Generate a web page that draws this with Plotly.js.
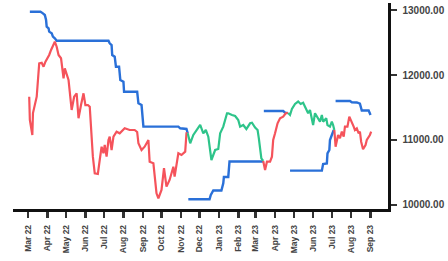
<!DOCTYPE html>
<html>
<head>
<meta charset="utf-8">
<script src="https://cdn.plot.ly/plotly-3.0.1.min.js"></script>
<style>html,body{margin:0;padding:0;background:#fff;}#chart{width:448px;height:261px;}</style>
</head>
<body>
<div id="chart"></div>
<script>
// Price segments (red = down regime, green = up regime)
const red1Dates = ['2022-03-03','2022-03-04','2022-03-08','2022-03-09','2022-03-15','2022-03-19','2022-03-23','2022-03-26','2022-03-29','2022-04-04','2022-04-07','2022-04-11','2022-04-13','2022-04-16','2022-04-19','2022-04-23','2022-04-27','2022-04-29','2022-05-02','2022-05-05','2022-05-10','2022-05-14','2022-05-18','2022-05-21','2022-05-25','2022-05-29','2022-06-01','2022-06-05','2022-06-08','2022-06-11','2022-06-13','2022-06-16','2022-06-21','2022-06-24','2022-06-27','2022-06-30','2022-07-02','2022-07-05','2022-07-08','2022-07-10','2022-07-13','2022-07-16','2022-07-21','2022-07-26','2022-08-03','2022-08-11','2022-08-19','2022-08-23','2022-08-25','2022-08-30','2022-09-04','2022-09-10','2022-09-12','2022-09-18','2022-09-20','2022-09-23','2022-09-26','2022-10-01','2022-10-05','2022-10-09','2022-10-14','2022-10-20','2022-10-22','2022-10-28','2022-11-02','2022-11-08','2022-11-10','2022-11-12'];
const red1Vals = [11666,11308,11077,11415,11666,12180,12189,12128,12205,12308,12385,12488,12512,12435,12308,12257,11949,12103,12026,11923,11462,11666,11718,11334,11538,11718,11538,11538,11512,11051,10743,10488,10477,10692,10897,10795,10923,10743,11000,11051,10846,11051,11128,11103,11180,11154,11154,11123,10949,10846,10897,11000,10666,10641,10436,10180,10103,10231,10565,10282,10385,10589,10436,10795,10769,10820,11103,11103];

const green1Dates = ['2022-11-12','2022-11-16','2022-11-21','2022-11-27','2022-12-02','2022-12-07','2022-12-11','2022-12-15','2022-12-18','2022-12-20','2022-12-26','2022-12-31','2023-01-03','2023-01-08','2023-01-14','2023-01-16','2023-01-22','2023-01-27','2023-02-01','2023-02-04','2023-02-09','2023-02-14','2023-02-20','2023-02-23','2023-02-28','2023-03-04','2023-03-06','2023-03-10','2023-03-13'];
const green1Vals = [11103,10949,11077,11154,11231,11103,11154,11051,10795,10692,10846,10862,11103,11205,11411,11411,11385,11369,11308,11205,11231,11169,11257,11266,11192,11154,11026,10718,10677];

const red2Dates = ['2023-03-13','2023-03-16','2023-03-19','2023-03-24','2023-03-27','2023-03-29','2023-04-01','2023-04-05','2023-04-09','2023-04-14','2023-04-18','2023-04-22'];
const red2Vals = [10677,10538,10666,10666,10743,11000,11103,11257,11334,11359,11411,11415];

const green2Dates = ['2023-04-22','2023-04-25','2023-04-28','2023-05-03','2023-05-08','2023-05-12','2023-05-16','2023-05-19','2023-05-24','2023-05-27','2023-05-30','2023-06-01','2023-06-04','2023-06-07','2023-06-12','2023-06-15','2023-06-17','2023-06-22','2023-06-24','2023-06-28','2023-07-01','2023-07-03','2023-07-05'];
const green2Vals = [11415,11385,11477,11554,11592,11554,11574,11512,11411,11462,11334,11231,11411,11369,11282,11385,11282,11334,11231,11205,11282,11231,11154];

const red3Dates = ['2023-07-05','2023-07-07','2023-07-11','2023-07-14','2023-07-17','2023-07-20','2023-07-22','2023-07-26','2023-07-29','2023-08-02','2023-08-05','2023-08-07','2023-08-10','2023-08-13','2023-08-15','2023-08-17','2023-08-20','2023-08-24','2023-08-26','2023-08-31','2023-09-02'];
const red3Vals = [11154,10897,11077,11026,11128,11051,11205,11205,11359,11282,11205,11154,11180,11103,11128,10974,10857,10923,11000,11077,11128];

// Trailing stop segments (blue)
const stop1Dates = ['2022-03-04','2022-03-21','2022-03-25','2022-03-28','2022-03-30','2022-03-31','2022-04-03','2022-04-04','2022-04-08','2022-04-10','2022-04-13','2022-04-16','2022-07-08','2022-07-10','2022-07-13','2022-07-14','2022-07-18','2022-07-20','2022-07-25','2022-07-27','2022-08-01','2022-08-02','2022-08-23','2022-08-25','2022-08-30','2022-09-02','2022-10-28','2022-10-31','2022-11-10','2022-11-12'];
const stop1Vals = [12974,12974,12949,12923,12846,12744,12718,12667,12641,12590,12564,12528,12528,12487,12462,12308,12282,12128,12128,11923,11897,11743,11743,11564,11538,11205,11205,11180,11170,11103];

const stop2Dates = ['2022-11-13','2022-12-17','2022-12-19','2022-12-23','2023-01-05','2023-01-08','2023-01-09','2023-01-16','2023-01-18','2023-03-13'];
const stop2Vals = [10088,10088,10154,10223,10223,10334,10431,10431,10669,10669];

const stop3Dates = ['2023-03-14','2023-04-14','2023-04-17','2023-04-21'];
const stop3Vals = [11446,11446,11420,11415];

const stop4Dates = ['2023-04-25','2023-06-15','2023-06-17','2023-06-23','2023-06-24','2023-06-27','2023-06-28','2023-07-01','2023-07-03','2023-07-04'];
const stop4Vals = [10528,10528,10630,10640,10795,10846,11000,11092,11128,11154];

const stop5Dates = ['2023-07-07','2023-07-30','2023-08-02','2023-08-10','2023-08-15','2023-08-18','2023-08-29','2023-09-01'];
const stop5Vals = [11600,11600,11580,11577,11560,11454,11454,11385];

const monthTicks = ['2022-03-01','2022-04-01','2022-05-01','2022-06-01','2022-07-01','2022-08-01','2022-09-01','2022-10-01','2022-11-01','2022-12-01','2023-01-01','2023-02-01','2023-03-01','2023-04-01','2023-05-01','2023-06-01','2023-07-01','2023-08-01','2023-09-01'];
const yTicks = [10000, 11000, 12000, 13000];

const RED = '#f5535b', GREEN = '#2ec48a', BLUE = '#2a70d8';
function seg(x, y, c, w) {
  return {x: x, y: y, type: 'scatter', mode: 'lines', line: {color: c, width: w}, hoverinfo: 'skip', showlegend: false};
}
const traces = [
  seg(stop1Dates, stop1Vals, BLUE, 2.4),
  seg(stop2Dates, stop2Vals, BLUE, 2.4),
  seg(stop3Dates, stop3Vals, BLUE, 2.4),
  seg(stop4Dates, stop4Vals, BLUE, 2.4),
  seg(stop5Dates, stop5Vals, BLUE, 2.4),
  seg(red1Dates, red1Vals, RED, 2.2),
  seg(green1Dates, green1Vals, GREEN, 2.2),
  seg(red2Dates, red2Vals, RED, 2.2),
  seg(green2Dates, green2Vals, GREEN, 2.2),
  seg(red3Dates, red3Vals, RED, 2.2)
];
const tickFont = {family: 'Liberation Sans, Arial, sans-serif', color: '#444', weight: 'bold'};
const layout = {
  width: 448, height: 261,
  margin: {l: 13, r: 60, t: 3, b: 52, pad: 0},
  paper_bgcolor: '#fff', plot_bgcolor: '#fff',
  showlegend: false,
  xaxis: {
    type: 'date', range: ['2022-02-05', '2023-09-29'],
    tickvals: monthTicks, tickformat: '%b %y', tickangle: -90,
    showgrid: false, zeroline: false,
    showline: true, linecolor: '#111', linewidth: 2.5,
    ticks: 'outside', ticklen: 6, tickwidth: 2.5, tickcolor: '#333',
    ticklabelstandoff: 4,
    tickfont: Object.assign({size: 8.5}, tickFont)
  },
  yaxis: {
    side: 'right', range: [9938, 13108],
    tickvals: yTicks, tickformat: '.2f',
    showgrid: false, zeroline: false,
    showline: true, linecolor: '#111', linewidth: 2.5,
    ticks: 'outside', ticklen: 6, tickwidth: 2.5, tickcolor: '#333',
    ticklabelstandoff: 4,
    tickfont: Object.assign({size: 10}, tickFont)
  }
};
Plotly.newPlot('chart', traces, layout, {staticPlot: true, displayModeBar: false});
</script>
</body>
</html>
